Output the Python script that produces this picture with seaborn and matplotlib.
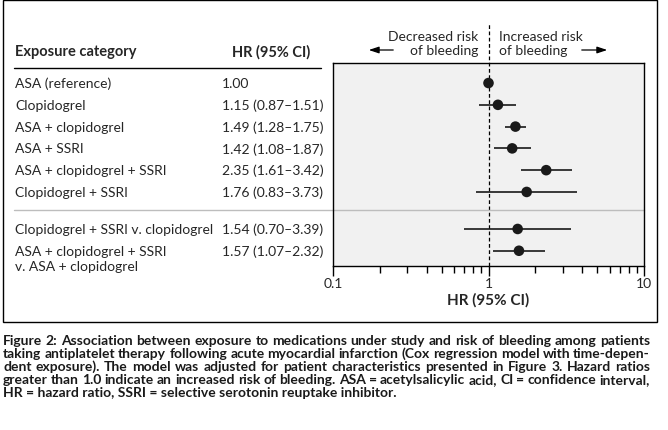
import numpy as np
import pandas as pd
import matplotlib
matplotlib.use("Agg")
import matplotlib.pyplot as plt
import matplotlib.transforms as mtransforms
from matplotlib.patches import Rectangle, FancyArrowPatch
from matplotlib.lines import Line2D
import seaborn as sns

sns.set_style("ticks")
plt.rcParams["font.family"] = ["Lato", "DejaVu Sans"]

# data
categories = [
    "ASA (reference)",
    "Clopidogrel",
    "ASA + clopidogrel",
    "ASA + SSRI",
    "ASA + clopidogrel + SSRI",
    "Clopidogrel + SSRI",
    "Clopidogrel + SSRI v. clopidogrel",
    "ASA + clopidogrel + SSRI\nv. ASA + clopidogrel",
]
hr = [1.00, 1.15, 1.49, 1.42, 2.35, 1.76, 1.54, 1.57]
ci_low = [np.nan, 0.87, 1.28, 1.08, 1.61, 0.83, 0.70, 1.07]
ci_high = [np.nan, 1.51, 1.75, 1.87, 3.42, 3.73, 3.39, 2.32]
hr_labels = ["1.00", "1.15 (0.87\u20131.51)", "1.49 (1.28\u20131.75)", "1.42 (1.08\u20131.87)",
             "2.35 (1.61\u20133.42)", "1.76 (0.83\u20133.73)", "1.54 (0.70\u20133.39)",
             "1.57 (1.07\u20132.32)"]
group = [1, 1, 1, 1, 1, 1, 2, 2]

caption_lines = [
    "Figure 2: Association between exposure to medications under study and risk of bleeding among patients",
    "taking antiplatelet therapy following acute myocardial infarction (Cox regression model with time-depen-",
    "dent exposure). The model was adjusted for patient characteristics presented in Figure 3. Hazard ratios",
    "greater than 1.0 indicate an increased risk of bleeding. ASA = acetylsalicylic acid, CI = confidence interval,",
    "HR = hazard ratio, SSRI = selective serotonin reuptake inhibitor.",
]

df = pd.DataFrame({"cat": categories, "hr": hr, "lo": ci_low, "hi": ci_high,
                   "label": hr_labels, "group": group})
df["y"] = np.arange(len(df)) + np.where(df["group"] == 2, 0.7, 0.0)

W, H = 668, 431
fig = plt.figure(figsize=(W / 100, H / 100), dpi=100)
ax = fig.add_axes([333 / W, 1 - 267 / H, (644 - 333) / W, (267 - 64) / H])
ax.set_facecolor("#f1f1f1")

# confidence intervals and point estimates
ax.hlines(df["y"], df["lo"], df["hi"], color="#1a1a1a", lw=1.2, zorder=2)
sns.scatterplot(data=df, x="hr", y="y", ax=ax, s=58, color="#1a1a1a",
                edgecolor="none", zorder=3, legend=False)

ax.set_xscale("log")
ax.set_xlim(0.1, 10)
ax.set_ylim(8.4, -0.92)
ax.set_yticks([])
ax.set_xticks([0.1, 1, 10])
ax.set_xticklabels(["0.1", "1", "10"])
ax.tick_params(axis="x", which="major", direction="out", length=7, width=1.0,
               labelsize=10, pad=1, bottom=True, color="black")
ax.tick_params(axis="x", which="minor", direction="out", length=5, width=1.0,
               bottom=True, color="black")
ax.tick_params(axis="y", which="both", left=False)
ax.set_xlabel("HR (95% CI)", fontsize=11, fontweight="bold", labelpad=2)
ax.set_ylabel("")
for s in ax.spines.values():
    s.set_visible(True)
    s.set_color("black")
    s.set_linewidth(1.0)

# reference line at HR = 1
ax.axvline(1, ymin=0, ymax=1 + 40 / 203, color="black", lw=0.9, ls=(0, (3, 2)),
           clip_on=False, zorder=1)

# separator between groups
sep_y = 5.85
blend = mtransforms.blended_transform_factory(fig.transFigure, ax.transData)
ax.add_line(Line2D([14 / W, 644 / W], [sep_y, sep_y], transform=blend,
                   color="#bdbdbd", lw=1.0, clip_on=False))

# table text
line_step = 0.69
for _, r in df.iterrows():
    for k, part in enumerate(r["cat"].split("\n")):
        ax.text(15 / W, r["y"] + k * line_step, part, transform=blend, ha="left",
                va="center", fontsize=10)
    ax.text(222 / W, r["y"], r["label"], transform=blend, ha="left", va="center", fontsize=10)

fig.text(15 / W, 1 - 52 / H, "Exposure category", ha="left", va="center",
         fontsize=10.5, fontweight="bold")
fig.text(232 / W, 1 - 52 / H, "HR (95% CI)", ha="left", va="center",
         fontsize=10.5, fontweight="bold")
fig.add_artist(Line2D([14 / W, 321 / W], [1 - 69 / H, 1 - 69 / H], color="black", lw=1.0))

# direction labels and arrows
fig.text(478 / W, 1 - 44 / H, "Decreased risk\nof bleeding", ha="right", va="center",
         fontsize=10, linespacing=1.15, multialignment="right")
fig.text(499 / W, 1 - 44 / H, "Increased risk\nof bleeding", ha="left", va="center",
         fontsize=10, linespacing=1.15)
arrow_kw = dict(arrowstyle="-|>,head_length=0.6,head_width=0.2", color="black", lw=0.9)
fig.add_artist(FancyArrowPatch((396 / W, 1 - 51 / H), (366 / W, 1 - 51 / H),
                               transform=fig.transFigure, mutation_scale=10, **arrow_kw))
fig.add_artist(FancyArrowPatch((579 / W, 1 - 51 / H), (610 / W, 1 - 51 / H),
                               transform=fig.transFigure, mutation_scale=10, **arrow_kw))

# outer frame
fig.add_artist(Rectangle((3 / W, 1 - 323 / H), 654 / W, 322 / H, transform=fig.transFigure,
                         fill=False, edgecolor="black", lw=1.0))

# justified caption; size chosen so the longest line still fits
renderer = fig.canvas.get_renderer()
x0, x1 = 3, 650


def word_widths(words, size):
    arts = [fig.text(0, 0, w, fontsize=size, fontweight="bold") for w in words]
    out = [a.get_window_extent(renderer).width for a in arts]
    for a in arts:
        a.remove()
    return out


cap_size = 10.2
while True:
    fits = True
    for line in caption_lines[:-1]:
        ws = line.split(" ")
        if sum(word_widths(ws, cap_size)) + 2.6 * (len(ws) - 1) > x1 - x0:
            fits = False
            break
    if fits:
        break
    cap_size -= 0.1

cap_kw = dict(fontsize=cap_size, fontweight="bold", va="baseline", ha="left", color="#1a1a1a")
for i, line in enumerate(caption_lines):
    yy = 1 - (345 + 13 * i) / H
    words = line.split(" ")
    if i == len(caption_lines) - 1:
        fig.text(x0 / W, yy, line, **cap_kw)
        continue
    arts = [fig.text(0, yy, w, **cap_kw) for w in words]
    widths = [a.get_window_extent(renderer).width for a in arts]
    gap = (x1 - x0 - sum(widths)) / (len(words) - 1)
    x = x0
    for a, w in zip(arts, widths):
        a.set_x(x / W)
        x += w + gap

fig.savefig("out.png", dpi=100)
